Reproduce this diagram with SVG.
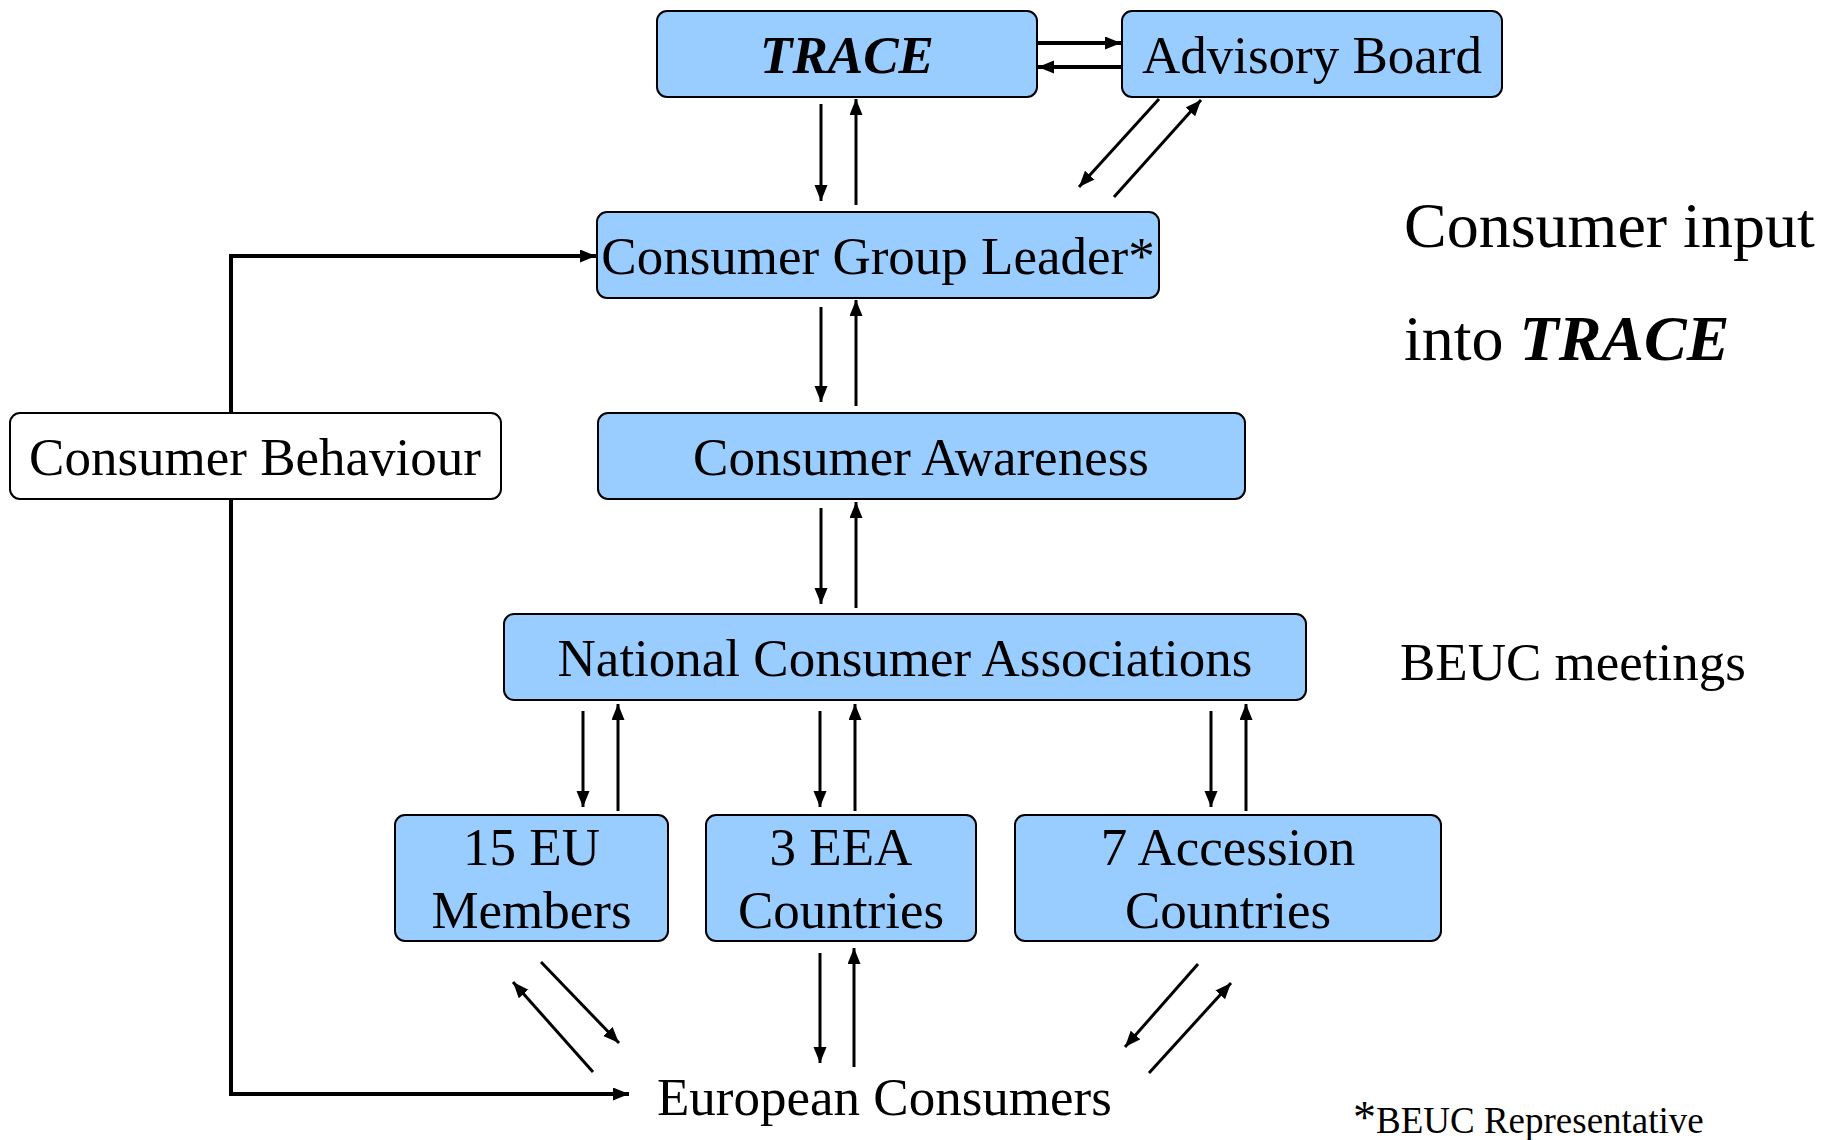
<svg xmlns="http://www.w3.org/2000/svg" width="1821" height="1140" viewBox="0 0 1821 1140">
<style>
.box{fill:#99CCFF;stroke:#000;stroke-width:2}
.wbox{fill:#fff;stroke:#000;stroke-width:2}
.t{font-family:"Liberation Serif","Times New Roman",serif;font-size:53px;fill:#000;text-anchor:middle}
.ts{font-family:"Liberation Serif","Times New Roman",serif;fill:#000;text-anchor:start}
.bi{font-weight:bold;font-style:italic}
.c{stroke:#000;stroke-width:3;fill:none;marker-end:url(#ah)}
.ck{stroke:#000;stroke-width:4;fill:none;marker-end:url(#ah)}
</style>
<defs>
<marker id="ah" markerUnits="userSpaceOnUse" markerWidth="18" markerHeight="14" refX="16" refY="6.5" orient="auto">
<path d="M0,0 L16,6.5 L0,13 z" fill="#000"/>
</marker>
</defs>
<g id="connectors">
<line class="ck" x1="1037" y1="43" x2="1121" y2="43"/>
<line class="ck" x1="1121" y1="67" x2="1038" y2="67"/>
<line class="c" x1="821" y1="104" x2="821" y2="201"/>
<line class="c" x1="856" y1="205" x2="856" y2="99"/>
<line class="c" x1="1159" y1="99" x2="1079" y2="187"/>
<line class="c" x1="1114" y1="197" x2="1201" y2="100"/>
<line class="c" x1="821" y1="307" x2="821" y2="402"/>
<line class="c" x1="856" y1="406" x2="856" y2="300"/>
<line class="c" x1="821" y1="508" x2="821" y2="604"/>
<line class="c" x1="856" y1="608" x2="856" y2="502"/>
<line class="c" x1="583" y1="711" x2="583" y2="807"/>
<line class="c" x1="618" y1="811" x2="618" y2="704"/>
<line class="c" x1="820" y1="711" x2="820" y2="807"/>
<line class="c" x1="855" y1="811" x2="855" y2="704"/>
<line class="c" x1="1211" y1="711" x2="1211" y2="807"/>
<line class="c" x1="1246" y1="811" x2="1246" y2="704"/>
<line class="c" x1="541" y1="962" x2="619" y2="1043"/>
<line class="c" x1="593" y1="1072" x2="513" y2="982"/>
<line class="c" x1="820" y1="953" x2="820" y2="1063"/>
<line class="c" x1="854" y1="1067" x2="854" y2="948"/>
<line class="c" x1="1198" y1="964" x2="1125" y2="1047"/>
<line class="c" x1="1149" y1="1073" x2="1231" y2="983"/>
<path class="ck" d="M231,413 V256 H596"/>
<path class="ck" d="M231,499 V1094 H629"/>
</g>
<g id="trace">
<rect class="box" x="657" y="11" width="380" height="86" rx="10"/>
<text class="t bi" x="847" y="73">TRACE</text>
</g>
<g id="advisory-board">
<rect class="box" x="1122" y="11" width="380" height="86" rx="10"/>
<text class="t" x="1312" y="73">Advisory Board</text>
</g>
<g id="consumer-group-leader">
<rect class="box" x="597" y="212" width="562" height="86" rx="10"/>
<text class="t" x="878" y="274">Consumer Group Leader*</text>
</g>
<g id="consumer-behaviour">
<rect class="wbox" x="10" y="413" width="491" height="86" rx="10"/>
<text class="t" x="255" y="475">Consumer Behaviour</text>
</g>
<g id="consumer-awareness">
<rect class="box" x="598" y="413" width="647" height="86" rx="10"/>
<text class="t" x="921" y="475">Consumer Awareness</text>
</g>
<g id="national-consumer-associations">
<rect class="box" x="504" y="614" width="802" height="86" rx="10"/>
<text class="t" x="905" y="676">National Consumer Associations</text>
</g>
<g id="eu-members">
<rect class="box" x="395" y="815" width="273" height="126" rx="10"/>
<text class="t" x="531.5" y="865">15 EU</text>
<text class="t" x="531.5" y="928">Members</text>
</g>
<g id="eea-countries">
<rect class="box" x="706" y="815" width="270" height="126" rx="10"/>
<text class="t" x="841" y="865">3 EEA</text>
<text class="t" x="841" y="928">Countries</text>
</g>
<g id="accession-countries">
<rect class="box" x="1015" y="815" width="426" height="126" rx="10"/>
<text class="t" x="1228" y="865">7 Accession</text>
<text class="t" x="1228" y="928">Countries</text>
</g>
<g id="european-consumers">
<text class="ts" x="657" y="1115" font-size="53">European Consumers</text>
</g>
<g id="annotations">
<text class="ts" x="1404" y="247" font-size="64">Consumer input</text>
<text class="ts" x="1404" y="360" font-size="64">into <tspan class="bi">TRACE</tspan></text>
<text class="ts" x="1400" y="680" font-size="53">BEUC meetings</text>
<text class="ts" x="1353" y="1133" font-size="37"><tspan font-size="46">*</tspan>BEUC Representative</text>
</g>
</svg>
